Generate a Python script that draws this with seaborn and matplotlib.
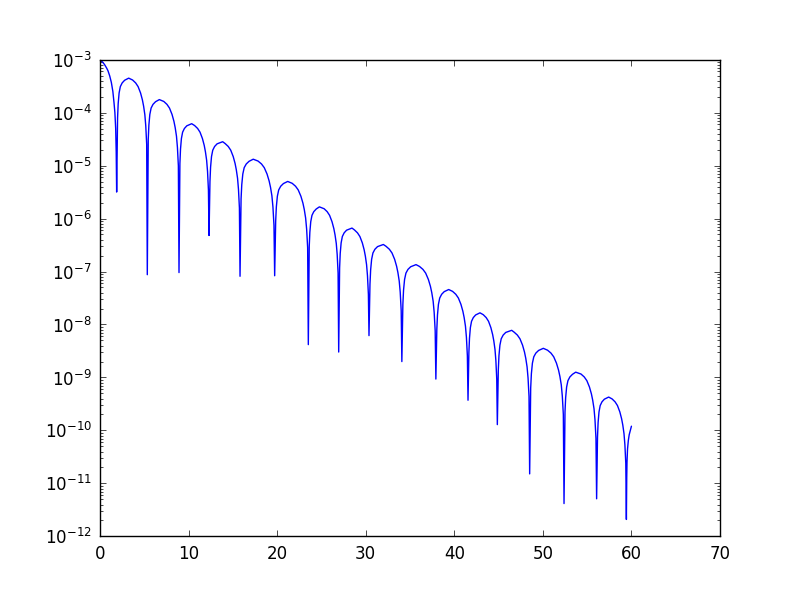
import matplotlib
matplotlib.use('Agg')
import matplotlib.pyplot as plt
import seaborn as sns
import pandas as pd
import numpy as np
from matplotlib.ticker import LogLocator, NullLocator

# points: x and log10(y), one row per lobe
x_vals = [
    0.00, 0.25, 0.50, 0.75, 0.90, 1.10, 1.28, 1.45, 1.58, 1.68, 1.77, 1.83, 1.88,
    1.984, 2.053, 2.157, 2.295, 2.503, 2.780, 3.24, 3.679, 4.025, 4.302, 4.579, 4.786, 4.925, 5.063, 5.167, 5.271, 5.34,
    5.447, 5.519, 5.626, 5.770, 5.984, 6.271, 6.70, 7.202, 7.560, 7.846, 8.132, 8.347, 8.490, 8.634, 8.741, 8.848, 8.92,
    9.022, 9.090, 9.191, 9.327, 9.530, 9.801, 10.35, 10.683, 11.022, 11.293, 11.564, 11.768, 11.903, 12.039, 12.141, 12.242, 12.31,
    12.415, 12.485, 12.590, 12.730, 12.940, 13.220, 13.85, 14.130, 14.480, 14.760, 15.040, 15.250, 15.390, 15.530, 15.635, 15.740, 15.81,
    15.927, 16.006, 16.123, 16.279, 16.514, 16.827, 17.30, 17.843, 18.234, 18.547, 18.860, 19.094, 19.251, 19.407, 19.525, 19.642, 19.72,
    19.834, 19.910, 20.024, 20.176, 20.404, 20.708, 21.19, 21.696, 22.076, 22.380, 22.684, 22.912, 23.064, 23.216, 23.330, 23.444, 23.52,
    23.623, 23.692, 23.794, 23.932, 24.137, 24.412, 24.77, 25.304, 25.647, 25.921, 26.195, 26.401, 26.538, 26.676, 26.779, 26.881, 26.95,
    27.053, 27.121, 27.224, 27.360, 27.566, 27.839, 28.45, 28.728, 29.070, 29.344, 29.618, 29.823, 29.960, 30.096, 30.199, 30.302, 30.37,
    30.481, 30.556, 30.667, 30.815, 31.038, 31.335, 31.99, 32.299, 32.670, 32.967, 33.264, 33.486, 33.635, 33.783, 33.895, 34.006, 34.08,
    34.195, 34.272, 34.387, 34.541, 34.771, 35.078, 35.68, 36.077, 36.461, 36.768, 37.075, 37.306, 37.459, 37.613, 37.728, 37.843, 37.92,
    38.029, 38.102, 38.210, 38.356, 38.573, 38.864, 39.37, 39.808, 40.171, 40.461, 40.751, 40.969, 41.114, 41.260, 41.369, 41.477, 41.55,
    41.649, 41.716, 41.815, 41.947, 42.146, 42.411, 42.90, 43.271, 43.602, 43.867, 44.132, 44.330, 44.463, 44.595, 44.695, 44.794, 44.86,
    44.970, 45.043, 45.152, 45.298, 45.517, 45.809, 46.48, 46.758, 47.123, 47.415, 47.707, 47.926, 48.072, 48.218, 48.328, 48.437, 48.51,
    48.626, 48.704, 48.820, 48.976, 49.208, 49.519, 50.05, 50.528, 50.916, 51.226, 51.536, 51.769, 51.924, 52.080, 52.196, 52.312, 52.39,
    52.500, 52.574, 52.684, 52.832, 53.052, 53.347, 53.71, 54.304, 54.672, 54.966, 55.260, 55.481, 55.628, 55.776, 55.886, 55.996, 56.07,
    56.171, 56.238, 56.339, 56.473, 56.675, 56.944, 57.43, 57.817, 58.153, 58.422, 58.691, 58.892, 59.027, 59.161, 59.262, 59.363, 59.43,
    59.47, 59.50, 59.56, 59.65, 59.75, 59.87, 60.00,
]
log_y = [
    -3.02, -3.04, -3.09, -3.16, -3.21, -3.31, -3.43, -3.60, -3.81, -4.00, -4.30, -4.75, -5.50,
    -4.10, -3.83, -3.63, -3.51, -3.44, -3.39, -3.35, -3.385, -3.44, -3.51, -3.63, -3.76, -3.88, -4.04, -4.25, -4.60, -7.06,
    -4.505, -4.235, -4.035, -3.915, -3.845, -3.795, -3.755, -3.79, -3.845, -3.915, -4.035, -4.165, -4.285, -4.445, -4.655, -5.005, -7.02,
    -4.96, -4.69, -4.49, -4.37, -4.30, -4.25, -4.21, -4.245, -4.30, -4.37, -4.49, -4.62, -4.74, -4.90, -5.11, -5.46, -6.32,
    -5.30, -5.03, -4.83, -4.71, -4.64, -4.59, -4.55, -4.585, -4.64, -4.71, -4.83, -4.96, -5.08, -5.24, -5.45, -5.80, -7.09,
    -5.63, -5.36, -5.16, -5.04, -4.97, -4.92, -4.88, -4.915, -4.97, -5.04, -5.16, -5.29, -5.41, -5.57, -5.78, -6.13, -7.08,
    -6.05, -5.78, -5.58, -5.46, -5.39, -5.34, -5.30, -5.335, -5.39, -5.46, -5.58, -5.71, -5.83, -5.99, -6.20, -6.55, -8.38,
    -6.53, -6.26, -6.06, -5.94, -5.87, -5.82, -5.78, -5.815, -5.87, -5.94, -6.06, -6.19, -6.31, -6.47, -6.68, -7.03, -8.52,
    -6.93, -6.66, -6.46, -6.34, -6.27, -6.22, -6.18, -6.215, -6.27, -6.34, -6.46, -6.59, -6.71, -6.87, -7.08, -7.43, -8.21,
    -7.24, -6.97, -6.77, -6.65, -6.58, -6.53, -6.49, -6.525, -6.58, -6.65, -6.77, -6.90, -7.02, -7.18, -7.39, -7.74, -8.70,
    -7.62, -7.35, -7.15, -7.03, -6.96, -6.91, -6.87, -6.905, -6.96, -7.03, -7.15, -7.28, -7.40, -7.56, -7.77, -8.12, -9.03,
    -8.09, -7.82, -7.62, -7.50, -7.43, -7.38, -7.34, -7.375, -7.43, -7.50, -7.62, -7.75, -7.87, -8.03, -8.24, -8.59, -9.43,
    -8.53, -8.26, -8.06, -7.94, -7.87, -7.82, -7.78, -7.815, -7.87, -7.94, -8.06, -8.19, -8.31, -8.47, -8.68, -9.03, -9.89,
    -8.86, -8.59, -8.39, -8.27, -8.20, -8.15, -8.11, -8.145, -8.20, -8.27, -8.39, -8.52, -8.64, -8.80, -9.01, -9.36, -10.82,
    -9.20, -8.93, -8.73, -8.61, -8.54, -8.49, -8.45, -8.485, -8.54, -8.61, -8.73, -8.86, -8.98, -9.14, -9.35, -9.70, -11.38,
    -9.65, -9.38, -9.18, -9.06, -8.99, -8.94, -8.90, -8.935, -8.99, -9.06, -9.18, -9.31, -9.43, -9.59, -9.80, -10.15, -11.29,
    -10.12, -9.85, -9.65, -9.53, -9.46, -9.41, -9.37, -9.405, -9.46, -9.53, -9.65, -9.78, -9.90, -10.06, -10.27, -10.62, -11.68,
    -10.90, -10.60, -10.35, -10.19, -10.08, -10.00, -9.92,
]

df = pd.DataFrame({'x': x_vals, 'y': np.power(10.0, log_y)})

sns.set_style('ticks')
plt.rcParams['font.family'] = ['DejaVu Sans']
plt.rcParams['axes.unicode_minus'] = False
plt.rcParams['text.color'] = 'black'
plt.rcParams['xtick.color'] = 'black'
plt.rcParams['ytick.color'] = 'black'

fig = plt.figure(figsize=(8, 5.96), dpi=100)
ax = fig.add_axes([0.125, 0.1, 0.775, 0.8])

sns.lineplot(data=df, x='x', y='y', sort=False, estimator=None,
             color='#0000ff', linewidth=1.0, ax=ax)

ax.set_yscale('log')
ax.set_xlim(0, 70)
ax.set_ylim(1e-12, 1e-3)
ax.set_xlabel('')
ax.set_ylabel('')

ax.yaxis.set_major_locator(LogLocator(base=10, numticks=20))
ax.yaxis.set_minor_locator(LogLocator(base=10, subs=np.arange(2, 10), numticks=20))
ax.xaxis.set_minor_locator(NullLocator())

ax.tick_params(which='both', direction='in', top=True, right=True,
               width=0.5, colors='black', labelsize=12, pad=6)
ax.tick_params(which='major', length=4)
ax.tick_params(which='minor', length=2)
for s in ax.spines.values():
    s.set_linewidth(1.0)
    s.set_color('black')

fig.savefig('out.png', dpi=100, facecolor='white')
